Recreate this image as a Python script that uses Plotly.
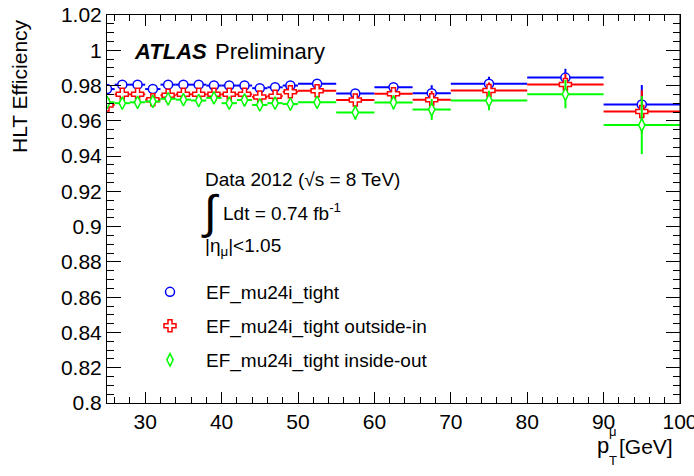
import plotly.graph_objects as go

# Bin centres and half-widths in muon pT [GeV]
pt_centers = [25, 27, 29, 31, 33, 35, 37, 39, 41, 43, 45, 47, 49,
              52.5, 57.5, 62.5, 67.5, 75, 85, 95]
pt_halfwidths = [1] * 13 + [2.5, 2.5, 2.5, 2.5, 5, 5, 5]

# EF_mu24i_tight
eff_tight = [0.978, 0.9805, 0.9805, 0.978, 0.9805, 0.9805, 0.9805, 0.980, 0.980, 0.980,
             0.9785, 0.979, 0.980, 0.981, 0.9755, 0.979, 0.9757, 0.981, 0.9845, 0.9693]
err_tight = [0.001, 0.001, 0.001, 0.001, 0.001, 0.001, 0.001, 0.001, 0.001, 0.0012,
             0.0012, 0.0013, 0.0013, 0.0015, 0.002, 0.0025, 0.0045, 0.004, 0.005, 0.011]

# EF_mu24i_tight outside-in
eff_oi = [0.969, 0.975, 0.975, 0.972, 0.9745, 0.975, 0.975, 0.975, 0.975, 0.975,
          0.9735, 0.974, 0.9765, 0.977, 0.9718, 0.9753, 0.9719, 0.9772, 0.9806, 0.9653]
err_oi = [0.0015, 0.0013, 0.0013, 0.0013, 0.0013, 0.0013, 0.0013, 0.0013, 0.0014, 0.0014,
          0.0015, 0.0015, 0.0016, 0.002, 0.003, 0.003, 0.005, 0.0045, 0.006, 0.012]

# EF_mu24i_tight inside-out
eff_io = [0.9705, 0.970, 0.9705, 0.971, 0.9725, 0.972, 0.9715, 0.973, 0.970, 0.9718,
          0.969, 0.970, 0.9695, 0.9705, 0.9647, 0.9704, 0.9664, 0.9715, 0.9751, 0.9576]
err_io = [0.0015, 0.0014, 0.0014, 0.0014, 0.0014, 0.0014, 0.0014, 0.0015, 0.0015, 0.0015,
          0.0016, 0.0017, 0.0018, 0.002, 0.004, 0.004, 0.006, 0.0055, 0.008, 0.0165]

series_names = ["EF_mu24i_tight", "EF_mu24i_tight outside-in", "EF_mu24i_tight inside-out"]

x_tickvals = [30, 40, 50, 60, 70, 80, 90, 100]
x_ticktext = ["30", "40", "50", "60", "70", "80", "90", "100"]
y_tickvals = [0.8, 0.82, 0.84, 0.86, 0.88, 0.9, 0.92, 0.94, 0.96, 0.98, 1.0, 1.02]
y_ticktext = ["0.8", "0.82", "0.84", "0.86", "0.88", "0.9", "0.92", "0.94", "0.96", "0.98", "1", "1.02"]

FONT = "Liberation Sans, Arial, Helvetica, sans-serif"

# plot frame in pixels (figure is 694 x 476)
W, H = 694, 476
L, R, T, B = 107, 680, 15, 403


def px(x):
    return (x - L) / (R - L)


def py(y):
    return (B - y) / (B - T)


styles = [
    dict(symbol="circle", color="#0000ff", size=9),
    dict(symbol="cross", color="#ff0000", size=10),
    dict(symbol="diamond-tall", color="#00ff00", size=9),
]
values = [(eff_tight, err_tight), (eff_oi, err_oi), (eff_io, err_io)]
legend_ids = ["legend", "legend2", "legend3"]

fig = go.Figure()
for name, st, (vals, errs), lg in zip(series_names, styles, values, legend_ids):
    fig.add_trace(go.Scatter(
        x=pt_centers, y=vals, name=name, mode="markers", legend=lg,
        marker=dict(symbol=st["symbol"], size=st["size"], color="white",
                    line=dict(color=st["color"], width=1.5)),
        error_x=dict(type="data", array=pt_halfwidths, color=st["color"],
                     thickness=2, width=0),
        error_y=dict(type="data", array=errs, color=st["color"],
                     thickness=2, width=0),
        cliponaxis=True,
    ))

annotations = []


def text(s, x, y, size=19, xanchor="left", yanchor="middle", **kw):
    annotations.append(dict(text=s, x=px(x), y=py(y), xref="paper", yref="paper",
                            xanchor=xanchor, yanchor=yanchor, showarrow=False,
                            font=dict(family=FONT, size=size, color="black"), **kw))


text("<b><i>ATLAS</i></b>", 132, 51, size=22)
text("Preliminary", 213, 51, size=22)
text("Data 2012 (√s = 8 TeV)", 203, 179)
text("∫", 199, 211, size=47)
text("Ldt = 0.74 fb<sup>-1</sup>", 221, 212)
text("|η<sub>μ</sub>|&lt;1.05", 203, 247)

# axis titles
text("HLT Efficiency", 19, 86, size=21, xanchor="center", textangle=-90)
text("p", 595, 445, size=22)
text("μ", 607, 431, size=13)
text("T", 607, 461, size=13)
text("[GeV]", 675, 446, size=21, xanchor="right")

legend_rows = [292, 326, 360]
layout_legends = {}
for lg, yrow in zip(legend_ids, legend_rows):
    layout_legends[lg] = dict(
        x=px(134), y=py(yrow), xanchor="left", yanchor="middle",
        xref="paper", yref="paper", bgcolor="rgba(0,0,0,0)",
        font=dict(family=FONT, size=19, color="black"),
        itemwidth=62, borderwidth=0,
    )

axis_common = dict(
    showline=True, linecolor="black", linewidth=1, mirror="allticks",
    ticks="inside", tickcolor="black", tickwidth=1, showgrid=False, zeroline=False,
    tickfont=dict(family=FONT, size=21, color="black"),
    automargin=False, ticklabeloverflow="allow",
)

fig.update_layout(
    template="none",
    width=W, height=H,
    margin=dict(l=L, r=W - R, t=T, b=H - B, pad=0),
    paper_bgcolor="white", plot_bgcolor="white",
    font=dict(family=FONT, color="black"),
    showlegend=True,
    annotations=annotations,
    shapes=[dict(type="line", xref="paper", yref="paper", x0=1, x1=1, y0=0, y1=1,
                 line=dict(color="black", width=1), layer="above")],
    xaxis=dict(range=[25, 100], tickvals=x_tickvals, ticktext=x_ticktext, ticklen=11,
               minor=dict(dtick=2, tick0=0, ticklen=6, ticks="inside", tickcolor="black"),
               **axis_common),
    yaxis=dict(range=[0.8, 1.02], tickvals=y_tickvals, ticktext=y_ticktext, ticklen=14,
               minor=dict(dtick=0.005, tick0=0.8, ticklen=7, ticks="inside", tickcolor="black"),
               **axis_common),
    **layout_legends,
)

fig.write_html("out.html")
